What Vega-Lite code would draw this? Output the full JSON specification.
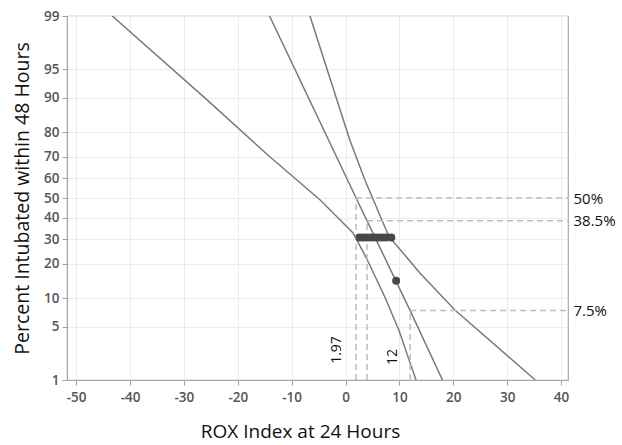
{
  "$schema": "https://vega.github.io/schema/vega-lite/v6.json",
  "width": 501,
  "height": 364,
  "autosize": "none",
  "padding": {"left": 67, "top": 16, "right": 54, "bottom": 65},
  "background": "white",
  "config": {
    "font": "Open Sans",
    "view": {"stroke": "#a8a8a8", "strokeWidth": 1.2},
    "axis": {
      "domainColor": "#a8a8a8",
      "tickColor": "#a0a0a0",
      "gridColor": "#ececec",
      "labelColor": "#555555",
      "labelFont": "Open Sans",
      "labelFontSize": 13.5,
      "labelFontWeight": 600,
      "titleFont": "Open Sans",
      "titleFontWeight": "normal",
      "titleColor": "#111111"
    }
  },
  "datasets": {
    "curves": [
      {"series": "lower", "x": -43.3, "pct": 99},
      {"series": "lower", "x": -25.7, "pct": 89.5},
      {"series": "lower", "x": -14.0, "pct": 70},
      {"series": "lower", "x": -4.7, "pct": 49},
      {"series": "lower", "x": 1.4, "pct": 32.7},
      {"series": "lower", "x": 3.1, "pct": 25.3},
      {"series": "lower", "x": 4.5, "pct": 19.6},
      {"series": "lower", "x": 7.3, "pct": 10.3},
      {"series": "lower", "x": 9.9, "pct": 4.57},
      {"series": "lower", "x": 12.0, "pct": 1.74},
      {"series": "lower", "x": 13.1, "pct": 1},
      {"series": "fit", "x": -14.1, "pct": 99},
      {"series": "fit", "x": 1.97, "pct": 50},
      {"series": "fit", "x": 4.0, "pct": 38.5},
      {"series": "fit", "x": 12.0, "pct": 7.5},
      {"series": "fit", "x": 18.0, "pct": 1},
      {"series": "upper", "x": -6.6, "pct": 99},
      {"series": "upper", "x": 0.8, "pct": 77.1},
      {"series": "upper", "x": 3.6, "pct": 59.1},
      {"series": "upper", "x": 7.7, "pct": 33.2},
      {"series": "upper", "x": 8.6, "pct": 29.6},
      {"series": "upper", "x": 11.0, "pct": 23.3},
      {"series": "upper", "x": 13.8, "pct": 16.9},
      {"series": "upper", "x": 20.3, "pct": 7.6},
      {"series": "upper", "x": 34.8, "pct": 1.07},
      {"series": "upper", "x": 35.2, "pct": 1}
    ],
    "refs": [
      {"x": 1.97, "x2": 41.3, "pct": 50, "pct2": 50},
      {"x": 1.97, "x2": 1.97, "pct": 1, "pct2": 50},
      {"x": 4.0, "x2": 41.3, "pct": 38.5, "pct2": 38.5},
      {"x": 4.0, "x2": 4.0, "pct": 1, "pct2": 38.5},
      {"x": 12.0, "x2": 41.3, "pct": 7.5, "pct2": 7.5},
      {"x": 12.0, "x2": 12.0, "pct": 1, "pct2": 7.5}
    ],
    "points": [
      {"x": 2.6, "pct": 30.7},
      {"x": 3.3, "pct": 30.7},
      {"x": 4.0, "pct": 30.7},
      {"x": 4.7, "pct": 30.7},
      {"x": 5.4, "pct": 30.7},
      {"x": 6.1, "pct": 30.7},
      {"x": 6.8, "pct": 30.7},
      {"x": 7.5, "pct": 30.7},
      {"x": 8.5, "pct": 30.7},
      {"x": 9.4, "pct": 14.5}
    ],
    "labels": [
      {"x": -1.5, "pct": 2.6, "text": "1.97"},
      {"x": 8.9, "pct": 2.1, "text": "12"}
    ]
  },
  "resolve": {"axis": {"y": "independent"}},
  "layer": [
    {
      "data": {"name": "curves"},
      "transform": [{"calculate": "quantileNormal(datum.pct / 100)", "as": "z"}],
      "mark": {"type": "line", "color": "#7a7a7a", "strokeWidth": 1.5, "clip": true},
      "encoding": {
        "x": {
          "field": "x", "type": "quantitative",
          "scale": {"domain": [-51.7, 41.3], "nice": false, "zero": false},
          "axis": {
            "title": "ROX Index at 24 Hours",
            "titleFontSize": 19,
            "titlePadding": 19,
            "titleX": 233,
            "values": [-50, -45, -40, -35, -30, -25, -20, -15, -10, -5, 0, 5, 10, 15, 20, 25, 30, 35, 40],
            "labelExpr": "datum.value % 10 === 0 ? ('' + datum.value) : ''",
            "tickOpacity": {"condition": {"test": "datum.value % 10 !== 0", "value": 0}, "value": 1},
            "tickSize": 5,
            "labelPadding": 5,
            "grid": true
          }
        },
        "y": {
          "field": "z", "type": "quantitative",
          "scale": {"domain": [-2.3263, 2.3263], "nice": false, "zero": false},
          "axis": {
            "orient": "left",
            "title": "Percent Intubated within 48 Hours",
            "titleFontSize": 19.5,
            "titlePadding": 11,
            "values": [-2.3263, -1.6449, -1.2816, -0.8416, -0.5244, -0.2533, 0, 0.2533, 0.5244, 0.8416, 1.2816, 1.6449, 2.3263],
            "labelExpr": "format(cumulativeNormal(datum.value) * 100, '.0f')",
            "tickSize": 5,
            "labelPadding": 3,
            "grid": true
          }
        },
        "detail": {"field": "series", "type": "nominal"},
        "order": {"field": "z", "type": "quantitative", "sort": "descending"}
      }
    },
    {
      "data": {"name": "refs"},
      "transform": [
        {"calculate": "quantileNormal(datum.pct / 100)", "as": "z"},
        {"calculate": "quantileNormal(datum.pct2 / 100)", "as": "z2"}
      ],
      "mark": {"type": "rule", "color": "#bdbdbd", "strokeWidth": 1.5, "strokeDash": [6, 4]},
      "encoding": {
        "x": {"field": "x", "type": "quantitative"},
        "x2": {"field": "x2"},
        "y": {
          "field": "z", "type": "quantitative",
          "axis": {
            "orient": "right",
            "title": null,
            "values": [0, -0.29237, -1.43953],
            "labelExpr": "format(cumulativeNormal(datum.value) * 100, '.3~r') + '%'",
            "ticks": false,
            "domain": false,
            "grid": false,
            "labelColor": "#111111",
            "labelFontSize": 15,
            "labelFontWeight": "normal",
            "labelPadding": 5
          }
        },
        "y2": {"field": "z2"}
      }
    },
    {
      "data": {"name": "points"},
      "transform": [{"calculate": "quantileNormal(datum.pct / 100)", "as": "z"}],
      "mark": {"type": "circle", "color": "#474747", "size": 64, "opacity": 1},
      "encoding": {
        "x": {"field": "x", "type": "quantitative"},
        "y": {"field": "z", "type": "quantitative", "axis": null}
      }
    },
    {
      "data": {"name": "labels"},
      "transform": [{"calculate": "quantileNormal(datum.pct / 100)", "as": "z"}],
      "mark": {"type": "text", "angle": 270, "align": "center", "baseline": "middle", "fontSize": 14, "color": "#111111", "font": "Open Sans"},
      "encoding": {
        "x": {"field": "x", "type": "quantitative"},
        "y": {"field": "z", "type": "quantitative", "axis": null},
        "text": {"field": "text", "type": "nominal"}
      }
    }
  ]
}
